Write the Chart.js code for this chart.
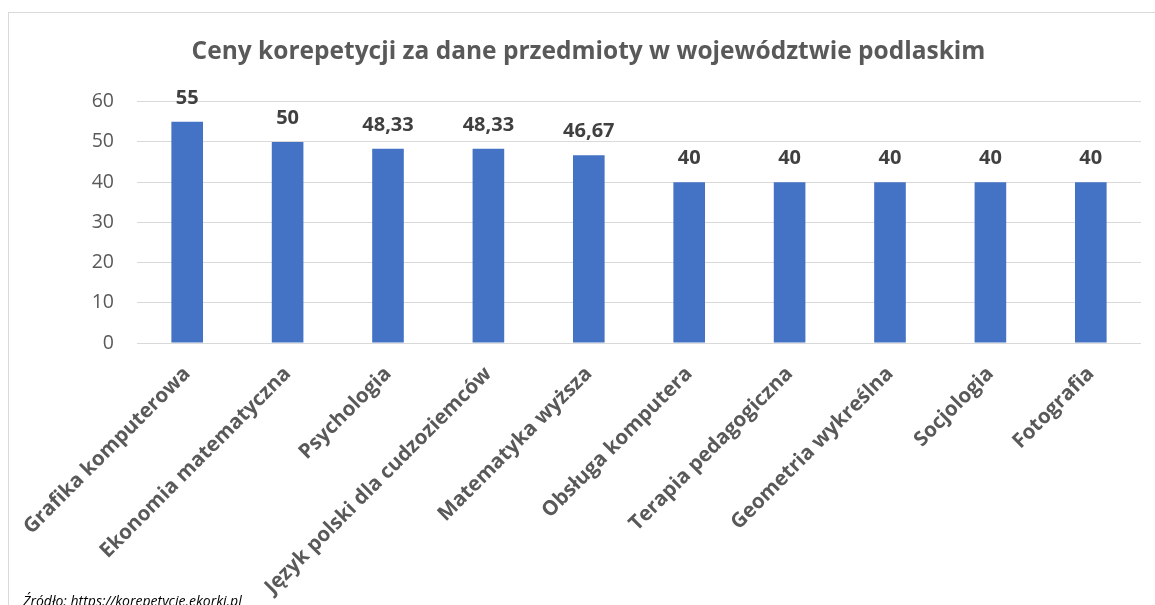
<!DOCTYPE html>
<html>
<head>
<meta charset="utf-8">
<script src="https://cdn.jsdelivr.net/npm/chart.js@4.4.0/dist/chart.umd.min.js"></script>
<style>
body { margin: 0; overflow: hidden; background: #fff; }
#box { position: absolute; left: 8px; top: 12px; width: 1159px; height: 620px; border: 1px solid #d9d9d9; }
#source { position: absolute; left: 23px; top: 591px; font: italic 14px "Open Sans"; color: #000; white-space: nowrap; }
</style>
</head>
<body>
<div id="box"><canvas id="prices" width="1159" height="592"></canvas></div>
<div id="source">Źródło: https://korepetycje.ekorki.pl</div>
<script>
// Data

const subjects = ["Grafika komputerowa", "Ekonomia matematyczna", "Psychologia", "Język polski dla cudzoziemców", "Matematyka wyższa", "Obsługa komputera", "Terapia pedagogiczna", "Geometria wykreślna", "Socjologia", "Fotografia"];
const prices = [55, 50, 48.33, 48.33, 46.67, 40, 40, 40, 40, 40];
const yTicks = [0, 10, 20, 30, 40, 50, 60];

const grey = '#595959';

// Value labels above the bars

const valueLabels = {
    id: 'valueLabels',
    afterDatasetsDraw(chart) {
        const ctx = chart.ctx;
        const meta = chart.getDatasetMeta(0);
        ctx.save();
        ctx.font = 'bold 20px "Open Sans"';
        ctx.fillStyle = '#404040';
        ctx.textAlign = 'center';
        ctx.textBaseline = 'alphabetic';
        meta.data.forEach((bar, i) => {
            const text = String(prices[i]).replace('.', ',');
            ctx.fillText(text, bar.x, bar.y - 18);
        });
        ctx.restore();
    }
};

// Chart

const canvas = document.getElementById("prices");

new Chart(canvas, {
    type: 'bar',
    data: {
        labels: subjects,
        datasets: [{
            data: prices,
            backgroundColor: '#4472C4',
            borderWidth: 0,
            categoryPercentage: 0.63,
            barPercentage: 0.5
        }]
    },
    options: {
        responsive: false,
        animation: false,
        layout: {
            // equal side padding keeps the title centred on the whole box
            padding: { left: 27, right: 27, top: 0, bottom: 0 }
        },
        scales: {
            x: {
                grid: { display: false },
                border: { display: false },
                ticks: {
                    color: grey,
                    font: { family: '"Open Sans"', size: 20.5, weight: 'bold' },
                    minRotation: 45,
                    maxRotation: 45,
                    autoSkip: false,
                    padding: 11
                },
                afterFit: s => { s.height = 262; }
            },
            y: {
                min: 0,
                max: 60,
                grid: { color: '#d9d9d9', lineWidth: 1, drawTicks: false },
                border: { display: false },
                afterBuildTicks: s => { s.ticks = yTicks.map(v => ({ value: v })); },
                ticks: {
                    color: grey,
                    font: { family: '"Open Sans"', size: 19.5 },
                    padding: 23
                },
                afterFit: s => { s.width = 101; }
            }
        },
        plugins: {
            legend: { display: false },
            tooltip: { enabled: false },
            title: {
                display: true,
                text: 'Ceny korepetycji za dane przedmioty w województwie podlaskim',
                color: grey,
                font: { family: '"Open Sans"', size: 24.5, weight: 'bold', lineHeight: 1.2 },
                padding: { top: 24, bottom: 35.3 }
            }
        }
    },
    plugins: [valueLabels]
});
</script>
</body>
</html>
